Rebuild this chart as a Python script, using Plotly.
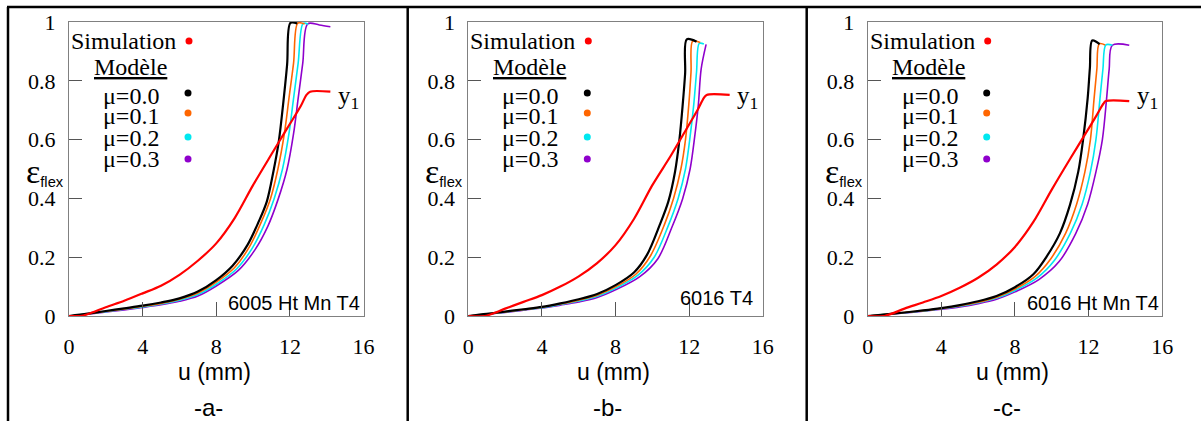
import plotly.graph_objects as go

W, H = 1201, 421

# ---------------- data ----------------
x_ticks = [0, 4, 8, 12, 16]
y_ticks = [0, 0.2, 0.4, 0.6, 0.8, 1]
y_ticktext = ["0", "0.2", "0.4", "0.6", "0.8", "1"]
mu_labels = ["μ=0.0", "μ=0.1", "μ=0.2", "μ=0.3"]
panel_labels = ["-a-", "-b-", "-c-"]
alloy_labels = ["6005 Ht Mn T4", "6016 T4", "6016 Ht Mn T4"]

# Panel a : 6005 Ht Mn T4
a_sim_u = [0, 0.6, 1, 2, 3, 4, 5, 6, 7, 8, 9, 10, 11, 11.85, 12.6, 12.9, 13.1, 14.2]
a_sim_e = [0, 0, 0.006, 0.03, 0.052, 0.077, 0.103, 0.14, 0.188, 0.247, 0.333, 0.445, 0.55, 0.638, 0.715, 0.752, 0.763, 0.763]
a_mu0_u = [0, 1, 2, 3, 4, 5, 6, 7, 8, 8.9, 9.7, 10.3, 10.75, 11.1, 11.4, 11.65, 11.85, 12.03, 12.4]
a_mu0_e = [0, 0.008, 0.017, 0.026, 0.035, 0.046, 0.06, 0.083, 0.122, 0.172, 0.242, 0.32, 0.39, 0.49, 0.595, 0.73, 0.855, 0.997, 0.995]
a_mu1_u = [0, 1, 2, 3, 4, 5, 6, 7, 8, 9.0, 9.8, 10.45, 10.95, 11.35, 11.7, 11.95, 12.2, 12.43, 12.8]
a_mu1_e = [0, 0.007, 0.016, 0.024, 0.033, 0.043, 0.057, 0.078, 0.115, 0.165, 0.235, 0.32, 0.40, 0.50, 0.62, 0.74, 0.86, 0.996, 0.993]
a_mu2_u = [0, 1, 2, 3, 4, 5, 6, 7, 8, 9.1, 9.95, 10.6, 11.15, 11.6, 11.95, 12.2, 12.45, 12.72, 13.0]
a_mu2_e = [0, 0.007, 0.015, 0.023, 0.031, 0.041, 0.054, 0.073, 0.108, 0.16, 0.23, 0.31, 0.40, 0.50, 0.62, 0.74, 0.86, 0.995, 0.992]
a_mu3_u = [0, 1, 2, 3, 4, 5, 6, 7, 8, 9.2, 10.1, 10.8, 11.35, 11.85, 12.2, 12.45, 12.7, 12.97, 13.6, 14.2]
a_mu3_e = [0, 0.006, 0.014, 0.021, 0.029, 0.038, 0.05, 0.068, 0.102, 0.155, 0.225, 0.305, 0.395, 0.50, 0.62, 0.74, 0.86, 0.994, 0.99, 0.984]

# Panel b : 6016 T4
b_sim_u = [0, 0.9, 2, 3, 4, 5, 6, 7, 8, 9, 10, 11, 11.87, 12.5, 12.8, 12.95, 14.2]
b_sim_e = [0, 0, 0.025, 0.048, 0.071, 0.1, 0.135, 0.18, 0.241, 0.33, 0.445, 0.545, 0.638, 0.706, 0.742, 0.752, 0.752]
b_mu0_u = [0, 1, 2, 3, 4, 5, 6, 7, 8, 9.0, 9.7, 10.4, 10.87, 11.23, 11.47, 11.65, 11.78, 11.87, 12.4]
b_mu0_e = [0, 0.007, 0.015, 0.023, 0.031, 0.043, 0.057, 0.075, 0.105, 0.148, 0.207, 0.31, 0.39, 0.49, 0.60, 0.72, 0.825, 0.941, 0.933]
b_mu1_u = [0, 1, 2, 3, 4, 5, 6, 7, 8, 9.1, 9.9, 10.65, 11.15, 11.55, 11.8, 11.98, 12.1, 12.19, 12.6]
b_mu1_e = [0, 0.007, 0.014, 0.022, 0.03, 0.041, 0.054, 0.071, 0.099, 0.142, 0.205, 0.31, 0.40, 0.50, 0.60, 0.72, 0.83, 0.935, 0.93]
b_mu2_u = [0, 1, 2, 3, 4, 5, 6, 7, 8, 9.2, 10.1, 10.85, 11.4, 11.8, 12.05, 12.25, 12.4, 12.55, 12.8]
b_mu2_e = [0, 0.006, 0.013, 0.021, 0.028, 0.039, 0.051, 0.067, 0.094, 0.138, 0.2, 0.305, 0.40, 0.50, 0.61, 0.72, 0.83, 0.927, 0.925]
b_mu3_u = [0, 1, 2, 3, 4, 5, 6, 7, 8, 9.3, 10.3, 11.05, 11.65, 12.05, 12.3, 12.5, 12.65, 12.92]
b_mu3_e = [0, 0.006, 0.012, 0.02, 0.027, 0.037, 0.048, 0.063, 0.089, 0.133, 0.195, 0.30, 0.40, 0.50, 0.61, 0.72, 0.84, 0.924]

# Panel c : 6016 Ht Mn T4
c_sim_u = [0, 0.9, 2, 3, 4, 5, 6, 7, 8, 9, 10, 11, 11.9, 12.45, 12.8, 12.94, 14.21]
c_sim_e = [0, 0, 0.025, 0.046, 0.068, 0.096, 0.13, 0.175, 0.235, 0.32, 0.43, 0.535, 0.627, 0.684, 0.722, 0.731, 0.731]
c_mu0_u = [0, 1, 2, 3, 4, 5, 6, 7, 8, 9.0, 9.72, 10.44, 10.99, 11.44, 11.71, 11.95, 12.07, 12.2, 12.6]
c_mu0_e = [0, 0.006, 0.012, 0.019, 0.027, 0.037, 0.05, 0.068, 0.098, 0.142, 0.202, 0.281, 0.378, 0.491, 0.604, 0.74, 0.842, 0.937, 0.925]
c_mu1_u = [0, 1, 2, 3, 4, 5, 6, 7, 8, 9.1, 9.95, 10.75, 11.35, 11.8, 12.1, 12.3, 12.45, 12.58, 12.9]
c_mu1_e = [0, 0.006, 0.012, 0.018, 0.026, 0.035, 0.047, 0.064, 0.092, 0.135, 0.195, 0.281, 0.38, 0.49, 0.6, 0.74, 0.84, 0.926, 0.922]
c_mu2_u = [0, 1, 2, 3, 4, 5, 6, 7, 8, 9.2, 10.15, 11.0, 11.65, 12.1, 12.4, 12.62, 12.78, 12.94, 13.3]
c_mu2_e = [0, 0.006, 0.011, 0.017, 0.025, 0.033, 0.045, 0.061, 0.087, 0.13, 0.19, 0.28, 0.38, 0.49, 0.6, 0.74, 0.84, 0.922, 0.921]
c_mu3_u = [0, 1, 2, 3, 4, 5, 6, 7, 8, 9.3, 10.4, 11.3, 11.95, 12.4, 12.75, 12.98, 13.12, 13.29, 14.21]
c_mu3_e = [0, 0.005, 0.01, 0.016, 0.023, 0.031, 0.042, 0.057, 0.082, 0.124, 0.185, 0.28, 0.38, 0.49, 0.6, 0.74, 0.84, 0.921, 0.921]

panels = [
    (a_sim_u, a_sim_e, [(a_mu0_u, a_mu0_e), (a_mu1_u, a_mu1_e), (a_mu2_u, a_mu2_e), (a_mu3_u, a_mu3_e)]),
    (b_sim_u, b_sim_e, [(b_mu0_u, b_mu0_e), (b_mu1_u, b_mu1_e), (b_mu2_u, b_mu2_e), (b_mu3_u, b_mu3_e)]),
    (c_sim_u, c_sim_e, [(c_mu0_u, c_mu0_e), (c_mu1_u, c_mu1_e), (c_mu2_u, c_mu2_e), (c_mu3_u, c_mu3_e)]),
]

# ---------------- style ----------------
SERIF = "Liberation Serif, Times New Roman, serif"
SANS = "Liberation Sans, Arial, sans-serif"
sim_color = "#ff0000"
mu_colors = ["#000000", "#ff6600", "#00e8f0", "#8f00cc"]
mu_widths = [2.2, 1.6, 1.6, 1.6]

left_px = [69, 468.3, 867.7]
plot_w = 294.5
top_px, bot_px = 22, 316


def px(x):
    return x / W


def py(y):
    return 1 - y / H


fig = go.Figure()
annotations = []
shapes = []

for i, (su, se, models) in enumerate(panels):
    n = "" if i == 0 else str(i + 1)
    xa, ya = "x" + n, "y" + n
    for (mu_u, mu_e), col, lw in zip(models[::-1], mu_colors[::-1], mu_widths[::-1]):
        fig.add_trace(go.Scatter(x=mu_u, y=mu_e, mode="lines",
                                 line=dict(color=col, width=lw, shape="spline", smoothing=0.9),
                                 xaxis=xa, yaxis=ya, showlegend=False, hoverinfo="skip"))
    fig.add_trace(go.Scatter(x=su, y=se, mode="lines",
                             line=dict(color=sim_color, width=2.2, shape="spline", smoothing=0.9),
                             xaxis=xa, yaxis=ya, showlegend=False, hoverinfo="skip"))

    x0 = left_px[i]
    dx = x0 - 69
    axis_common = dict(showline=True, mirror=True, linecolor="#808080", linewidth=1,
                       showgrid=False, zeroline=False, ticks="inside", tickcolor="#555555",
                       tickwidth=1, automargin=False, fixedrange=True)
    fig.update_layout(**{
        "xaxis" + n: dict(axis_common, domain=[px(x0), px(x0 + plot_w)], range=[0, 16],
                          tickvals=x_ticks, ticklen=14, anchor=ya,
                          tickfont=dict(family=SERIF, size=22, color="black"),
                          ticklabelstandoff=11),
        "yaxis" + n: dict(axis_common, domain=[py(bot_px), py(top_px)], range=[0, 1],
                          tickvals=y_ticks, ticktext=y_ticktext, ticklen=13, anchor=xa,
                          tickfont=dict(family=SERIF, size=22, color="black"),
                          ticklabelstandoff=8),
    })

    # legend-like texts
    annotations.append(dict(x=px(178 + dx), y=py(41), text="Simulation", xanchor="right",
                            yanchor="middle", font=dict(family=SERIF, size=24, color="black")))
    shapes.append(dict(type="circle", xref="paper", yref="paper",
                       x0=px(185.5 + dx), x1=px(192.5 + dx), y0=py(44.5), y1=py(37.5),
                       fillcolor=sim_color, line=dict(width=0)))
    annotations.append(dict(x=px(130 + dx), y=py(67), text="<u>Modèle</u>", xanchor="center",
                            yanchor="middle", font=dict(family=SERIF, size=24, color="black")))
    for k, (lab, col) in enumerate(zip(mu_labels, mu_colors)):
        ty = [96, 116, 138, 159][k]
        dy = [93, 113, 137, 159][k]
        annotations.append(dict(x=px(101 + dx), y=py(ty), text=lab, xanchor="left",
                                yanchor="middle", font=dict(family=SERIF, size=24, color="black")))
        shapes.append(dict(type="circle", xref="paper", yref="paper",
                           x0=px(184.5 + dx), x1=px(191.5 + dx), y0=py(dy + 3.5), y1=py(dy - 3.5),
                           fillcolor=col, line=dict(width=0)))
    # y1 label
    annotations.append(dict(x=px(336 + dx), y=py(97), text="y<sub>1</sub>", xanchor="left",
                            yanchor="middle", font=dict(family=SERIF, size=25, color="black")))
    # y-axis title
    annotations.append(dict(x=px(24 + dx), y=py(171),
                            text="<span style='font-family:Liberation Serif;font-size:34px'>ε</span><sub>flex</sub>",
                            xanchor="left", yanchor="middle",
                            font=dict(family=SANS, size=21, color="black")))
    # alloy label
    annotations.append(dict(x=px(362 + dx if i != 1 else 755), y=py(303 if i != 1 else 298),
                            text=alloy_labels[i], xanchor="right", yanchor="middle",
                            font=dict(family=SANS, size=20, color="black")))
    # x title
    annotations.append(dict(x=px(214 + dx), y=py(372), text="u (mm)", xanchor="center",
                            yanchor="middle", font=dict(family=SANS, size=23, color="black")))
    # panel caption
    annotations.append(dict(x=px(208 + dx), y=py(407), text=panel_labels[i], xanchor="center",
                            yanchor="middle", font=dict(family=SANS, size=24, color="black")))

for a in annotations:
    a.setdefault("xref", "paper")
    a.setdefault("yref", "paper")
    a["showarrow"] = False

# table lines
line_style = dict(color="black", width=2.5)
shapes.append(dict(type="line", xref="paper", yref="paper", x0=px(7), x1=px(1201), y0=py(7), y1=py(7), line=line_style))
for xv in [8, 407.7, 806.7]:
    shapes.append(dict(type="line", xref="paper", yref="paper", x0=px(xv), x1=px(xv), y0=py(7), y1=py(421), line=line_style))

fig.update_layout(width=W, height=H, margin=dict(l=0, r=0, t=0, b=0, autoexpand=False),
                  paper_bgcolor="white", plot_bgcolor="white", template="none",
                  annotations=annotations, shapes=shapes, showlegend=False)

fig.write_html("out.html", config={"displayModeBar": False},
               post_script="document.body.style.margin='0px';document.body.style.overflow='hidden';")
